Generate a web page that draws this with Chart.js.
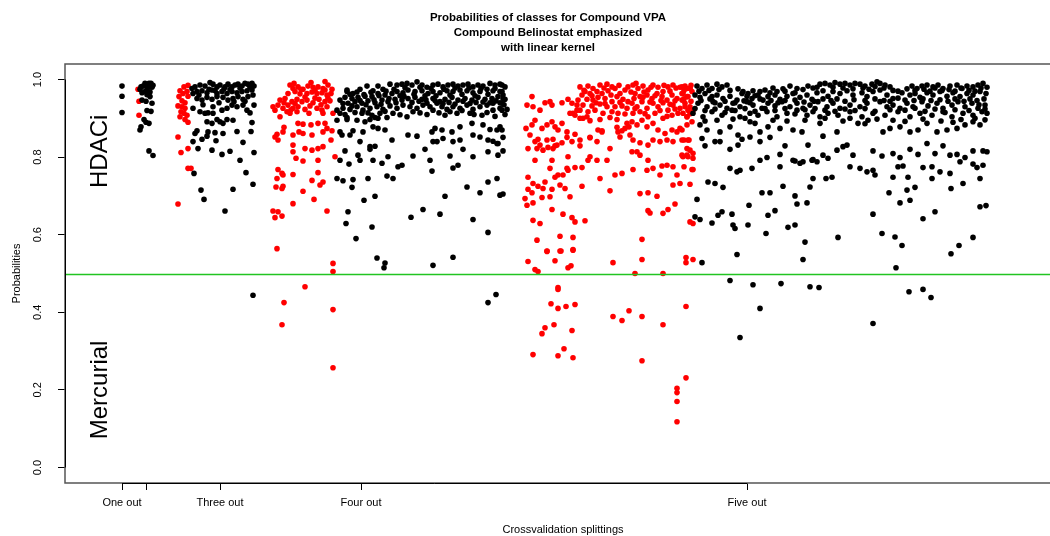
<!DOCTYPE html>
<html>
<head>
<meta charset="utf-8">
<script src="https://cdn.jsdelivr.net/npm/chart.js@4/dist/chart.umd.min.js"></script>
<style>
html,body{margin:0;padding:0;background:#fff;overflow:hidden;width:1050px;height:536px;}
#wrap{position:absolute;left:0;top:0;width:1090px;height:536px;}
</style>
</head>
<body>
<div id="wrap"><canvas id="c" width="1090" height="536"></canvas></div>
<script>
// ---- tick labels / categories ----
const splitTickValues = [5.7, 8.1, 15.5, 29.6, 68.2];
const splitTickLabels = ['One out', '', 'Three out', 'Four out', 'Five out'];
const probTicks = [0, 0.2, 0.4, 0.6, 0.8, 1.0];
const titleLines = ['Probabilities of classes for Compound VPA', 'Compound Belinostat emphasized', 'with linear kernel'];
const threshold = 0.5;

// ---- series values: [splitting position, probability] ----
const oneOutBlack = [[5.7,0.983],[5.7,0.957],[5.7,0.915]];

const twoOutBlack = [[7.6,0.981],[7.8,0.983],[8.1,0.985],[8.4,0.990],[8.5,0.981],[8.7,0.980],[8.2,0.975],[8.0,0.969],[7.7,0.966],[8.5,0.968],[8.2,0.961],[8.5,0.956],[8.7,0.939],[8.1,0.944],[7.7,0.947],[8.2,0.920],[8.6,0.918],[7.9,0.897],[8.1,0.890],[8.4,0.887],[7.6,0.878],[7.5,0.870],[8.4,0.816],[8.8,0.804],[8.0,0.990],[8.8,0.985],[8.6,0.990],[7.5,0.975]];
const twoOutRed = [[7.3,0.975],[7.4,0.944],[7.4,0.908]];

const threeOutRed = [[11.5,0.971],[11.9,0.981],[12.3,0.985],[12.2,0.969],[11.4,0.956],[11.7,0.945],[12.0,0.940],[11.3,0.932],[11.7,0.930],[12.0,0.926],[11.6,0.917],[11.9,0.913],[12.2,0.908],[11.5,0.904],[12.0,0.897],[12.3,0.890],[12.3,0.957],[11.8,0.964],[11.3,0.852],[11.6,0.812],[12.3,0.822],[12.3,0.771],[12.6,0.771],[11.3,0.679]];
const threeOutBlack = [[12.7,0.977],[13.0,0.981],[13.5,0.986],[14.0,0.983],[14.5,0.992],[14.8,0.988],[15.2,0.981],[15.5,0.986],[16.0,0.981],[16.3,0.988],[16.7,0.981],[17.0,0.986],[17.3,0.988],[17.7,0.983],[18.0,0.990],[18.3,0.988],[18.7,0.990],[18.9,0.983],
[12.8,0.964],[13.2,0.969],[13.7,0.971],[14.2,0.966],[14.7,0.973],[15.2,0.964],[15.7,0.969],[16.2,0.964],[16.7,0.969],[17.2,0.966],[17.7,0.969],[18.2,0.971],[18.7,0.973],
[13.2,0.951],[13.7,0.947],[14.2,0.954],[14.7,0.949],[15.2,0.956],[15.8,0.954],[16.3,0.947],[16.8,0.951],[17.3,0.956],[17.8,0.949],[18.3,0.956],[18.8,0.960],
[12.8,0.926],[13.5,0.917],[14.0,0.913],[14.3,0.914],[14.8,0.913],[15.7,0.921],[16.2,0.926],[16.7,0.934],[17.2,0.930],[17.8,0.934],[18.2,0.921],[18.5,0.914],[18.9,0.934],
[13.4,0.960],[14.4,0.975],[15.0,0.972],[15.9,0.976],[16.5,0.974],[17.5,0.978],[18.5,0.980],[13.8,0.935],[15.4,0.940],[16.9,0.943],[18.0,0.944],[14.8,0.930],
[14.2,0.891],[15.2,0.897],[14.7,0.887],[15.5,0.891],[15.8,0.887],[16.2,0.897],[16.8,0.895],[18.7,0.889],[13.2,0.868],[14.3,0.865],[15.0,0.863],[17.2,0.866],[18.6,0.866],[13.0,0.861],[12.8,0.840],[13.7,0.846],[14.2,0.854],[15.1,0.842],[15.8,0.861],[17.8,0.838],[13.3,0.822],[14.7,0.818],[15.7,0.807],[16.5,0.815],[18.9,0.812],[17.5,0.792],[12.9,0.758],[18.1,0.760],[18.8,0.730],[13.6,0.715],[16.8,0.717],[13.9,0.691],[16.0,0.661],[18.8,0.444]];

const fourOutRed = [[22.5,0.986],[22.8,0.977],[23.3,0.981],[23.8,0.975],[24.3,0.983],[24.8,0.980],[25.3,0.981],[25.8,0.977],[26.3,0.986],[26.7,0.975],
[22.3,0.964],[23.0,0.969],[23.5,0.963],[24.2,0.964],[24.7,0.968],[25.2,0.964],[25.7,0.966],[26.2,0.960],[26.6,0.964],
[21.5,0.947],[22.0,0.951],[22.7,0.943],[23.2,0.949],[23.7,0.943],[24.2,0.947],[24.8,0.940],[25.4,0.949],[26.0,0.943],[26.5,0.945],
[20.8,0.930],[21.3,0.934],[21.8,0.926],[22.3,0.934],[22.8,0.926],[23.3,0.930],[24.0,0.923],[24.5,0.932],[25.2,0.926],[25.7,0.921],[26.2,0.930],
[21.9,0.940],[23.0,0.938],[24.0,0.955],[25.0,0.952],[26.3,0.952],[22.6,0.922],[24.4,0.913],[25.6,0.935],[23.6,0.975],[25.0,0.972],[26.0,0.973],[22.9,0.990],[24.6,0.992],[26.0,0.995],
[21.0,0.921],[22.2,0.917],[26.8,0.913],[21.5,0.904],[22.5,0.913],[23.2,0.917],[25.8,0.913],
[23.3,0.887],[23.8,0.885],[24.6,0.883],[25.3,0.887],[26.0,0.887],[21.9,0.877],[21.2,0.859],[21.8,0.865],[21.0,0.852],[21.3,0.844],[22.8,0.857],[23.4,0.865],[23.8,0.861],[24.7,0.857],[25.8,0.865],[26.2,0.874],[26.7,0.868],[26.6,0.844],[22.8,0.831],[24.0,0.822],[24.7,0.818],[25.3,0.822],[25.8,0.827],[22.8,0.814],[23.1,0.797],[23.8,0.790],[25.3,0.792],[27.0,0.801],[21.3,0.768],[21.8,0.754],[21.7,0.758],[22.8,0.755],[21.2,0.745],[25.3,0.760],[24.7,0.740],[25.8,0.736],[25.5,0.728],[21.1,0.723],[21.8,0.725],[21.7,0.719],[23.8,0.712],[24.9,0.691],[22.8,0.680],[20.8,0.661],[21.3,0.659],[21.0,0.644],[21.7,0.648],[26.2,0.661],
[21.2,0.564],[26.8,0.526],[26.8,0.505],[24.0,0.466],[21.9,0.425],[21.7,0.368],[26.8,0.407],[26.8,0.257]];

const fourOutBlack = [[28.2,0.969],[28.2,0.973],[28.8,0.964],[29.5,0.975],[30.2,0.983],[30.8,0.971],[31.3,0.983],[31.8,0.975],[32.5,0.988],[33.2,0.986],[33.7,0.988],[34.2,0.990],[34.7,0.986],[35.2,0.994],[35.7,0.986],[36.2,0.980],[36.8,0.986],[37.3,0.988],[37.8,0.981],[38.3,0.986],[38.8,0.988],[39.3,0.983],[39.8,0.986],[40.3,0.988],[40.8,0.981],[41.3,0.986],[41.8,0.983],[42.5,0.990],[43.0,0.986],[43.5,0.988],[44.0,0.981],
[43.5,0.969],[42.8,0.971],[42.2,0.975],[41.5,0.969],[40.8,0.966],[40.2,0.971],[39.5,0.973],[38.8,0.969],[38.2,0.971],[37.5,0.966],[36.8,0.969],[36.3,0.964],[35.7,0.971],[35.0,0.969],[34.3,0.973],[33.8,0.966],[33.2,0.969],[32.7,0.964],[32.0,0.960],[31.3,0.964],[30.7,0.956],[30.0,0.957],[29.3,0.954],[28.7,0.951],[28.0,0.954],[27.5,0.947],
[28.3,0.939],[29.0,0.943],[29.7,0.939],[30.3,0.945],[31.0,0.940],[31.7,0.947],[32.3,0.943],[33.0,0.949],[33.7,0.947],[34.3,0.951],[35.0,0.954],[35.7,0.949],[36.2,0.939],[36.8,0.951],[37.5,0.943],[38.0,0.949],[38.7,0.954],[39.3,0.947],[40.0,0.951],[40.7,0.947],[41.3,0.954],[42.0,0.949],[42.7,0.951],[43.3,0.956],[44.0,0.949],
[27.2,0.921],[27.8,0.926],[28.5,0.923],[29.2,0.930],[29.8,0.921],[30.5,0.926],[31.2,0.930],[31.8,0.923],[32.5,0.932],[33.2,0.926],[33.8,0.934],[34.5,0.930],[35.2,0.926],[35.8,0.934],[36.5,0.930],[37.2,0.939],[37.7,0.930],[38.2,0.923],[38.8,0.930],[39.5,0.926],[40.2,0.934],[40.8,0.923],[41.5,0.930],[42.2,0.934],[42.8,0.921],[43.5,0.926],[44.2,0.923],
[28.5,0.962],[29.2,0.968],[29.9,0.961],[30.6,0.967],[31.4,0.958],[32.1,0.970],[32.9,0.975],[33.5,0.958],[34.0,0.979],[34.9,0.962],[35.5,0.980],[36.0,0.958],[36.6,0.977],[37.1,0.958],[37.9,0.975],[38.5,0.960],[39.0,0.978],[39.7,0.962],[40.4,0.978],[41.0,0.958],[41.6,0.977],[42.3,0.962],[43.0,0.977],[43.8,0.960],
[27.8,0.938],[28.7,0.932],[29.5,0.946],[30.1,0.935],[30.9,0.948],[31.6,0.936],[32.4,0.951],[33.1,0.940],[33.9,0.957],[34.7,0.941],[35.4,0.944],[36.1,0.948],[37.0,0.946],[37.8,0.938],[38.4,0.941],[39.0,0.937],[39.8,0.944],[40.5,0.938],[41.1,0.941],[41.8,0.942],[42.5,0.940],[43.1,0.945],[43.9,0.935],
[28.0,0.910],[29.0,0.915],[30.3,0.914],[31.0,0.902],[32.0,0.918],[33.5,0.909],[34.8,0.917],[36.2,0.910],[37.4,0.914],[38.5,0.917],[40.9,0.910],[42.2,0.915],[43.0,0.905],[44.0,0.910],
[27.5,0.913],[28.2,0.902],[29.7,0.913],[30.7,0.908],[31.5,0.913],[32.8,0.913],[34.2,0.904],[35.5,0.914],[36.8,0.921],[38.0,0.908],[39.2,0.913],[39.7,0.920],[40.5,0.913],[41.7,0.908],[42.8,0.939],[43.5,0.940],
[28.2,0.897],[30.5,0.897],[31.3,0.900],[32.2,0.902],[27.2,0.895],[29.2,0.895],[30.0,0.891],[30.8,0.878],[31.3,0.874],[32.0,0.870],[28.8,0.868],[29.8,0.865],[27.5,0.865],[27.7,0.857],[28.5,0.857],[32.7,0.844],[34.3,0.857],[35.2,0.854],[36.7,0.865],[37.0,0.874],[37.7,0.870],[38.7,0.865],[39.5,0.878],[40.7,0.887],[41.8,0.883],[42.5,0.871],[43.2,0.870],[43.5,0.878],
[29.5,0.840],[30.5,0.827],[31.0,0.828],[28.0,0.816],[30.5,0.820],[36.0,0.820],[36.8,0.840],[37.2,0.840],[37.8,0.848],[38.8,0.840],[39.5,0.844],[40.8,0.857],[41.5,0.852],[42.3,0.844],[42.8,0.841],[43.3,0.835],
[27.5,0.792],[28.4,0.782],[29.3,0.805],[29.5,0.792],[30.8,0.792],[31.7,0.784],[32.3,0.801],[33.7,0.779],[34.8,0.803],[36.5,0.792],[38.5,0.803],[39.3,0.779],[39.8,0.820],[40.8,0.801],[42.3,0.814],[43.3,0.805],[43.2,0.835],
[27.2,0.745],[27.8,0.739],[28.7,0.722],[28.8,0.742],[30.3,0.745],[32.2,0.751],[32.8,0.745],[33.3,0.775],[36.7,0.764],[38.8,0.772],[40.2,0.723],[41.5,0.708],[42.3,0.736],[43.2,0.745],[43.5,0.702],[43.8,0.705],
[29.9,0.689],[31.0,0.699],[28.3,0.659],[28.1,0.629],[30.7,0.620],[34.6,0.645],[35.8,0.665],[37.5,0.653],[38.0,0.699],[40.8,0.639],[42.3,0.606],[29.1,0.590],[31.2,0.540],[31.9,0.515],[32.0,0.527],[36.8,0.521],[38.8,0.542],
[43.7,0.986],[43.7,0.969],[43.8,0.951],[43.7,0.939],[43.7,0.921],[43.7,0.870],[43.8,0.851],[43.8,0.816],[42.3,0.425],[43.1,0.446]];

const fiveOutRed = [[46.7,0.956],[46.2,0.934],[46.8,0.930],[47.5,0.921],[48.0,0.940],[48.5,0.943],[48.7,0.934],[49.7,0.940],[50.3,0.949],[50.7,0.939],[51.2,0.934],
[46.1,0.874],[46.7,0.883],[47.0,0.895],[47.7,0.874],[48.2,0.883],[48.7,0.891],[49.0,0.878],[49.3,0.870],[49.7,0.887],[50.2,0.865],[50.5,0.913],[51.0,0.908],[51.5,0.921],[51.8,0.900],[52.2,0.904],
[46.5,0.857],[47.0,0.840],[47.3,0.846],[47.5,0.831],[48.2,0.844],[48.8,0.846],[49.2,0.831],[49.7,0.837],[50.2,0.851],[50.7,0.840],[51.0,0.859],[51.5,0.844],
[46.3,0.822],[47.2,0.822],[47.8,0.818],[48.3,0.825],[48.8,0.822],[49.0,0.829],[50.3,0.801],[51.5,0.829],[52.5,0.850],[53.2,0.840],[53.7,0.868],[52.3,0.792],[47.0,0.792],[48.7,0.792],[50.2,0.771],[51.0,0.773],[51.7,0.773],
[46.3,0.748],[48.5,0.771],[48.0,0.736],[49.0,0.748],[49.3,0.754],[49.8,0.754],[50.3,0.766],[46.8,0.732],[47.3,0.725],[47.8,0.719],[48.7,0.717],[49.5,0.728],[50.0,0.719],[50.5,0.698],[51.7,0.725],[46.3,0.717],[46.7,0.708],[46.0,0.693],[46.2,0.676],[46.8,0.682],[47.7,0.696],[48.5,0.698],[49.8,0.653],[50.7,0.644],[51.0,0.633],[46.8,0.637],[47.5,0.629],[48.7,0.665],[52.0,0.636],[47.2,0.586],[48.2,0.558],[49.5,0.596],[49.5,0.558],[50.8,0.593],[50.8,0.562],
[51.5,0.981],[52.3,0.983],[52.8,0.977],[53.5,0.986],[54.2,0.988],[54.7,0.981],[52.0,0.969],[51.7,0.960],[52.5,0.964],[53.2,0.969],[53.7,0.964],[54.3,0.971],[55.0,0.977],[55.5,0.964],[56.0,0.973],[56.3,0.981],[51.3,0.947],[52.2,0.949],[52.8,0.947],[53.3,0.954],[54.0,0.951],[54.7,0.943],[55.2,0.956],[55.8,0.949],[56.3,0.943],[51.8,0.934],[52.7,0.932],[53.5,0.937],[54.2,0.930],[55.0,0.930],[55.7,0.932],[56.2,0.926],[51.2,0.921],[52.3,0.917],[53.0,0.921],[53.8,0.913],[54.7,0.917],[55.3,0.913],[56.0,0.911],[50.8,0.913],[51.5,0.900],[52.5,0.894],[53.5,0.897],[54.5,0.902],[55.2,0.897],[52.5,0.851],[53.3,0.870],[53.7,0.865],[54.5,0.822],[55.2,0.877],[55.3,0.865],[55.5,0.852],[55.7,0.868],[56.0,0.874],[56.2,0.887],[56.4,0.878],[56.5,0.857],[52.5,0.801],[53.2,0.792],[53.5,0.745],[55.0,0.754],[55.7,0.758],[54.5,0.713],[54.2,0.792],
[51.9,0.972],[52.7,0.958],[53.9,0.978],[54.6,0.960],[55.4,0.985],[56.6,0.968],[57.1,0.990],[57.9,0.968],[58.6,0.980],[59.0,0.958],[59.9,0.985],[60.5,0.970],[61.1,0.978],[61.9,0.972],[62.6,0.985],[53.1,0.940],[54.0,0.938],[55.5,0.941],[56.9,0.951],[57.8,0.954],[58.5,0.942],[59.6,0.946],[60.5,0.936],[61.0,0.945],[61.9,0.950],[62.6,0.944],[57.0,0.925],[58.0,0.912],[59.5,0.920],[60.2,0.905],[61.0,0.924],[62.5,0.912],
[56.8,0.986],[57.3,0.977],[57.8,0.983],[58.3,0.973],[58.8,0.986],[59.3,0.980],[59.8,0.969],[60.3,0.981],[60.8,0.986],[61.5,0.980],[62.0,0.983],[62.5,0.977],[57.0,0.964],[57.5,0.956],[58.2,0.960],[58.7,0.951],[59.2,0.964],[59.7,0.956],[60.2,0.947],[60.7,0.960],[61.2,0.951],[61.7,0.964],[62.2,0.956],[62.7,0.969],[56.7,0.939],[57.2,0.930],[57.7,0.943],[58.2,0.926],[58.8,0.939],[59.3,0.930],[59.8,0.940],[60.3,0.921],[60.8,0.934],[61.5,0.926],[62.0,0.939],[62.5,0.930],[56.8,0.913],[57.5,0.917],[58.3,0.904],[59.0,0.913],[59.8,0.900],[60.7,0.908],[61.3,0.913],[62.2,0.904],[62.8,0.921],[56.7,0.891],[57.2,0.883],[57.7,0.895],[58.2,0.878],[58.8,0.887],[59.3,0.870],[60.0,0.861],[60.7,0.870],[61.2,0.865],[61.5,0.874],[62.2,0.883],[62.7,0.891],[56.8,0.844],[57.5,0.837],[58.3,0.831],[58.8,0.844],[59.5,0.840],[60.2,0.844],[60.8,0.840],[61.7,0.844],[62.3,0.844],[56.7,0.814],[57.2,0.814],[57.5,0.805],[58.3,0.792],[58.8,0.771],[59.7,0.777],[60.2,0.779],[60.8,0.775],[61.7,0.805],[62.2,0.805],[62.8,0.810],[56.8,0.768],[58.2,0.766],[59.5,0.754],[61.2,0.754],[61.5,0.732],[62.7,0.768],[57.5,0.706],[58.3,0.708],[59.2,0.699],[61.0,0.679],[60.8,0.728],[58.3,0.662],[58.5,0.656],[59.8,0.655],[60.3,0.665],[62.5,0.633],[62.8,0.629],[57.7,0.588],
[61.7,0.981],[62.2,0.977],[62.5,0.977],[61.8,0.964],[62.3,0.956],[61.7,0.947],[62.0,0.930],[62.3,0.921],[61.8,0.913],[62.2,0.904],[61.7,0.870],[62.4,0.844],[61.9,0.844],[62.2,0.822],[62.5,0.818],[61.8,0.801],[62.3,0.801],[62.8,0.797],[61.9,0.775],[62.8,0.768],[62.5,0.730],
[46.3,0.531],[47.0,0.510],[47.3,0.505],[48.2,0.557],[49.0,0.533],[49.6,0.558],[50.3,0.515],[50.6,0.520],[50.8,0.560],[54.8,0.528],[57.7,0.536],[57.0,0.500],[59.8,0.500],[62.1,0.541],[62.1,0.528],[62.8,0.536],[49.3,0.464],[49.3,0.459],[48.6,0.422],[49.3,0.410],[50.1,0.415],[51.0,0.420],[56.4,0.404],[54.8,0.389],[55.7,0.379],[57.7,0.389],[59.8,0.368],[62.1,0.415],[48.9,0.368],[48.0,0.360],[47.7,0.345],[50.7,0.353],[49.9,0.306],[46.8,0.291],[49.3,0.288],[50.8,0.283],[57.7,0.275],[62.1,0.231],[61.2,0.204],[61.2,0.193],[61.2,0.170],[61.2,0.118]];

const fiveOutBlack = [[63.2,0.983],[63.7,0.977],[64.2,0.986],[64.7,0.977],[65.2,0.988],[65.7,0.981],[66.2,0.986],[67.8,0.969],[68.3,0.964],[68.8,0.971],[69.5,0.969],[70.0,0.973],[70.5,0.966],[71.2,0.969],[72.5,0.983],[73.2,0.977],[74.3,0.983],[75.5,0.988],[76.0,0.990],[76.5,0.986],[77.0,0.992],[77.5,0.988],[78.0,0.990],[78.5,0.986],[79.0,0.990],[79.5,0.988],[80.0,0.983],[80.7,0.988],[81.2,0.994],[81.5,0.990],[82.0,0.986],[82.5,0.981],[84.7,0.983],[85.2,0.977],[85.7,0.983],[86.2,0.986],[86.8,0.981],[87.3,0.986],[87.8,0.977],[88.5,0.983],[89.2,0.986],[89.7,0.977],[90.2,0.983],[90.8,0.981],[91.3,0.986],[91.8,0.990],
[63.4,0.970],[64.4,0.972],[65.4,0.974],[66.5,0.972],[67.3,0.976],[69.0,0.958],[70.8,0.978],[71.8,0.976],[72.0,0.970],[73.0,0.966],[73.8,0.974],[74.8,0.978],[75.2,0.980],[76.8,0.980],[77.8,0.978],[78.8,0.976],[79.8,0.978],[80.4,0.975],[81.0,0.982],[81.9,0.978],[82.8,0.972],[83.3,0.970],[84.2,0.976],[85.0,0.972],[85.9,0.975],[86.5,0.970],[87.0,0.978],[87.7,0.972],[88.4,0.974],[89.0,0.970],[89.6,0.978],[90.4,0.972],[91.0,0.970],[91.6,0.978],[92.2,0.980],
[63.0,0.960],[63.5,0.954],[64.0,0.964],[64.7,0.956],[65.2,0.960],[65.8,0.951],[66.5,0.957],[67.2,0.947],[67.7,0.964],[68.2,0.957],[68.7,0.951],[69.3,0.960],[69.8,0.947],[70.3,0.956],[71.0,0.960],[71.5,0.949],[72.2,0.957],[72.8,0.964],[73.5,0.954],[74.2,0.960],[74.7,0.949],[75.2,0.966],[75.8,0.971],[76.3,0.957],[76.8,0.969],[77.5,0.964],[78.2,0.971],[78.8,0.960],[79.7,0.966],[80.2,0.956],[80.8,0.969],[81.5,0.973],[82.2,0.960],[82.8,0.951],[83.7,0.966],[84.5,0.960],[85.0,0.964],[85.5,0.954],[86.2,0.966],[86.8,0.960],[87.5,0.969],[88.2,0.957],[88.8,0.966],[89.5,0.956],[90.2,0.964],[90.8,0.960],[91.5,0.969],[92.1,0.964],
[63.6,0.946],[64.5,0.950],[65.0,0.940],[66.0,0.944],[67.0,0.940],[67.9,0.945],[68.5,0.940],[69.5,0.950],[70.6,0.946],[71.3,0.940],[72.0,0.946],[73.0,0.947],[73.9,0.942],[74.9,0.944],[75.8,0.950],[76.6,0.946],[77.2,0.950],[78.0,0.944],[78.9,0.948],[80.0,0.946],[81.0,0.950],[81.9,0.946],[82.5,0.944],[83.3,0.952],[84.0,0.947],[84.9,0.946],[85.8,0.950],[86.6,0.946],[87.5,0.948],[88.3,0.944],[89.0,0.950],[89.9,0.944],[90.5,0.950],[91.2,0.946],[91.9,0.950],
[63.3,0.939],[64.2,0.930],[64.8,0.943],[65.5,0.934],[66.2,0.926],[66.8,0.939],[67.5,0.930],[68.2,0.943],[68.8,0.934],[69.7,0.926],[70.3,0.939],[71.0,0.932],[71.7,0.943],[72.5,0.930],[73.2,0.939],[73.8,0.926],[74.5,0.934],[75.3,0.943],[76.2,0.930],[76.8,0.939],[77.5,0.926],[78.5,0.934],[79.5,0.930],[80.2,0.939],[81.5,0.943],[82.2,0.930],[82.8,0.934],[83.5,0.926],[84.2,0.939],[84.8,0.930],[85.7,0.943],[86.3,0.932],[87.2,0.939],[87.8,0.926],[88.7,0.934],[89.3,0.943],[90.0,0.930],[90.7,0.939],[91.3,0.926],[92.0,0.934],
[63.0,0.925],[64.0,0.920],[65.0,0.924],[66.0,0.915],[67.0,0.920],[68.0,0.925],[69.0,0.918],[70.0,0.925],[71.0,0.920],[72.0,0.925],[73.0,0.911],[74.0,0.922],[75.0,0.925],[76.0,0.921],[77.0,0.918],[78.0,0.924],[79.0,0.920],[80.0,0.925],[81.0,0.918],[82.5,0.922],[84.0,0.921],[85.0,0.926],[86.0,0.918],[87.0,0.924],[88.0,0.915],[89.0,0.922],[90.4,0.920],[91.4,0.935],[92.0,0.924],
[62.8,0.913],[63.8,0.904],[64.7,0.917],[65.7,0.908],[66.7,0.921],[67.5,0.904],[68.5,0.913],[69.3,0.908],[70.2,0.917],[71.2,0.904],[72.2,0.913],[73.2,0.921],[74.2,0.908],[74.8,0.917],[75.5,0.904],[76.3,0.913],[77.3,0.908],[78.5,0.917],[79.7,0.904],[80.8,0.913],[82.0,0.908],[83.3,0.917],[84.5,0.904],[85.5,0.913],[86.7,0.908],[87.8,0.917],[88.7,0.904],[89.8,0.913],[90.8,0.908],[91.7,0.917],[92.2,0.913],
[64.0,0.893],[65.2,0.895],[66.8,0.898],[68.0,0.900],[69.0,0.887],[70.8,0.895],[72.2,0.893],[74.0,0.895],[76.0,0.900],[77.8,0.893],[80.0,0.886],[81.2,0.898],[82.8,0.895],[84.0,0.892],[85.8,0.898],[87.6,0.893],[88.8,0.890],[89.6,0.897],[91.0,0.900],[92.0,0.896],
[63.5,0.883],[64.2,0.870],[65.5,0.865],[66.5,0.878],[67.3,0.857],[68.5,0.891],[69.5,0.865],[70.3,0.878],[71.5,0.874],[72.8,0.870],[73.7,0.865],[75.5,0.887],[75.8,0.854],[77.2,0.865],[78.5,0.900],[79.3,0.887],[80.3,0.895],[81.8,0.865],[82.5,0.874],[83.5,0.878],[84.5,0.865],[85.3,0.870],[86.2,0.887],[87.2,0.865],[88.2,0.870],[89.2,0.874],[90.0,0.883],[90.8,0.891],[91.5,0.883],
[63.7,0.848],[65.0,0.840],[64.0,0.829],[65.5,0.840],[66.5,0.820],[67.3,0.831],[67.7,0.846],[68.5,0.852],[69.5,0.840],[70.5,0.851],[71.5,0.807],[72.0,0.829],[72.8,0.792],[74.3,0.831],[74.7,0.792],[75.8,0.805],[76.3,0.797],[77.2,0.818],[77.8,0.827],[78.2,0.831],[78.8,0.805],[80.8,0.816],[81.7,0.803],[82.8,0.809],[83.5,0.799],[84.5,0.820],[85.3,0.807],[86.2,0.835],[87.0,0.809],[87.8,0.829],[88.5,0.805],[89.2,0.807],[90.0,0.799],[90.8,0.816],[91.8,0.816],[92.2,0.814],
[66.5,0.771],[67.2,0.762],[67.5,0.766],[68.7,0.771],[69.5,0.792],[70.2,0.799],[71.5,0.775],[73.0,0.790],[73.5,0.784],[73.8,0.788],[74.8,0.794],[75.2,0.788],[78.5,0.775],[79.5,0.771],[80.2,0.762],[81.0,0.754],[80.8,0.766],[82.8,0.748],[83.3,0.775],[83.8,0.777],[84.3,0.748],[85.0,0.722],[85.8,0.773],[86.7,0.775],[86.7,0.745],[87.5,0.762],[88.5,0.758],[89.5,0.788],[90.8,0.782],[91.2,0.773],[91.5,0.745],[91.8,0.779],
[64.3,0.736],[65.0,0.732],[65.8,0.722],[69.7,0.708],[70.5,0.708],[71.8,0.725],[73.0,0.700],[73.2,0.679],[74.2,0.682],[74.5,0.723],[74.8,0.745],[76.1,0.745],[76.7,0.748],[82.4,0.708],[83.5,0.682],[84.2,0.715],[84.5,0.689],[88.6,0.719],[89.8,0.732],[91.5,0.672],[92.1,0.675],
[63.0,0.646],[63.5,0.639],[64.7,0.630],[65.3,0.650],[65.7,0.659],[66.7,0.653],[66.8,0.625],[67.0,0.616],[68.3,0.625],[70.1,0.603],[70.3,0.650],[71.0,0.662],[72.3,0.619],[73.0,0.625],[80.8,0.653],[81.7,0.603],[83.0,0.594],[85.8,0.641],[87.0,0.659],[90.8,0.593],[77.3,0.593],[63.2,0.691],[68.4,0.676],
[63.7,0.528],[67.2,0.549],[66.5,0.482],[67.5,0.335],
[74.0,0.581],[73.8,0.536],[83.7,0.572],[83.1,0.515],[88.6,0.551],[89.4,0.572],[68.8,0.471],[71.6,0.474],[74.5,0.466],[75.4,0.464],[69.5,0.410],[80.8,0.371],[84.4,0.453],[85.8,0.459],[86.6,0.438]];

// ---- build datasets from the arrays ----
const toPts = arr => arr.map(p => ({x: p[0], y: p[1]}));
const blackPts = [].concat(oneOutBlack, twoOutBlack, threeOutBlack, fourOutBlack, fiveOutBlack);
const redPts = [].concat(twoOutRed, threeOutRed, fourOutRed, fiveOutRed);

const FONT = '"Liberation Sans", Arial, Helvetica, sans-serif';

const rDecor = {
  id: 'rDecor',
  afterDatasetsDraw(chart) {
    const {ctx, chartArea: ca, scales: {y}} = chart;
    const yy = Math.round(y.getPixelForValue(threshold)) + 0.5;
    ctx.save();
    ctx.strokeStyle = '#22c422';
    ctx.lineWidth = 1.6;
    ctx.beginPath();
    ctx.moveTo(ca.left, yy);
    ctx.lineTo(ca.right, yy);
    ctx.stroke();
    ctx.restore();
  },
  afterDraw(chart) {
    const {ctx, chartArea: ca, scales: {x, y}} = chart;
    ctx.save();
    // box
    ctx.strokeStyle = '#555';
    ctx.lineWidth = 1.5;
    ctx.strokeRect(ca.left, ca.top, ca.right - ca.left, ca.bottom - ca.top);
    // axis lines
    ctx.strokeStyle = '#000';
    ctx.lineWidth = 1;
    ctx.beginPath();
    ctx.moveTo(ca.left + 0.5, y.getPixelForValue(probTicks[0]));
    ctx.lineTo(ca.left + 0.5, y.getPixelForValue(probTicks[probTicks.length - 1]));
    ctx.moveTo(x.getPixelForValue(splitTickValues[0]), ca.bottom + 0.5);
    ctx.lineTo(x.getPixelForValue(splitTickValues[splitTickValues.length - 1]), ca.bottom + 0.5);
    ctx.stroke();
    // y tick labels (rotated like R)
    ctx.fillStyle = '#000';
    ctx.font = '11px ' + FONT;
    ctx.textAlign = 'center';
    ctx.textBaseline = 'middle';
    probTicks.forEach(v => {
      ctx.save();
      ctx.translate(ca.left - 27, y.getPixelForValue(v));
      ctx.rotate(-Math.PI / 2);
      ctx.fillText(v.toFixed(1), 0, 0);
      ctx.restore();
    });
    // axis titles
    ctx.save();
    ctx.translate(17, (ca.top + ca.bottom) / 2);
    ctx.rotate(-Math.PI / 2);
    ctx.fillText('Probabilities', 0, 0);
    ctx.restore();
    ctx.fillText('Crossvalidation splittings', 563, 530);
    // main title
    ctx.font = 'bold 11.5px ' + FONT;
    titleLines.forEach((t, i) => ctx.fillText(t, 548, 18 + i * 15));
    // class annotations
    ctx.font = '24px ' + FONT;
    [['HDACi', 0.815], ['Mercurial', 0.2]].forEach(([t, v]) => {
      ctx.save();
      ctx.translate(x.getPixelForValue(3.5), y.getPixelForValue(v));
      ctx.rotate(-Math.PI / 2);
      ctx.fillText(t, 0, 0);
      ctx.restore();
    });
    ctx.restore();
  }
};

new Chart(document.getElementById('c'), {
  type: 'scatter',
  data: {
    datasets: [
      {label: 'other', data: toPts(blackPts), backgroundColor: '#000', borderWidth: 0, pointRadius: 2.8},
      {label: 'Belinostat', data: toPts(redPts), backgroundColor: '#ff0000', borderWidth: 0, pointRadius: 2.8}
    ]
  },
  options: {
    responsive: false,
    animation: false,
    layout: {padding: {top: 64, right: 15, left: 0, bottom: 0}},
    plugins: {legend: {display: false}, tooltip: {enabled: false}, title: {display: false}},
    scales: {
      x: {
        type: 'linear', min: 0, max: 101,
        afterFit: s => { s.height = 53; },
        afterBuildTicks: s => { s.ticks = splitTickValues.map(v => ({value: v})); },
        border: {display: false},
        grid: {display: true, drawOnChartArea: false, drawTicks: true, tickLength: 7, color: '#000', lineWidth: 1},
        ticks: {
          autoSkip: false, maxRotation: 0, minRotation: 0, padding: 6,
          color: '#000', font: {family: FONT, size: 11},
          callback: (v, i) => splitTickLabels[i]
        }
      },
      y: {
        type: 'linear', min: -0.04, max: 1.04,
        afterFit: s => { s.width = 65; },
        afterBuildTicks: s => { s.ticks = probTicks.map(v => ({value: v})); },
        border: {display: false},
        grid: {display: true, drawOnChartArea: false, drawTicks: true, tickLength: 7, color: '#000', lineWidth: 1},
        ticks: {display: false}
      }
    }
  },
  plugins: [rDecor]
});
</script>
</body>
</html>
